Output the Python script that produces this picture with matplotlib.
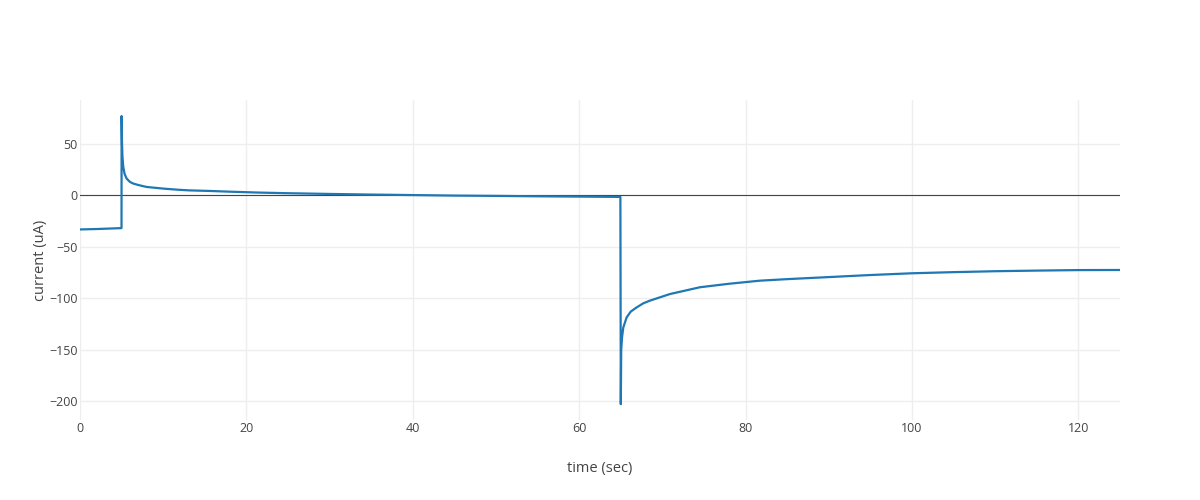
import matplotlib
matplotlib.use("Agg")
import matplotlib.pyplot as plt

# values
time_sec = [0, 2, 4, 4.99, 5.0, 5.05, 5.1, 5.2, 5.35, 5.6, 6.0, 6.4, 7, 8, 10,
            11.6, 13, 15.6, 18, 21.6, 25, 30, 35, 40, 45, 50, 55, 60, 64.95,
            65.0, 65.05, 65.15, 65.3, 65.7, 66.2, 66.9, 67.7, 68.5, 70.9, 74.5,
            78, 81.7, 85, 90, 95, 100, 105, 110, 115, 120, 125]
current_ua = [-33.2, -32.8, -32.2, -31.9, 77, 50, 38, 27.6, 21, 16.3, 13, 11.4,
              10, 8.1, 6.5, 5.5, 4.8, 4.2, 3.5, 2.6, 2, 1.3, 0.7, 0.2, -0.3,
              -0.6, -1.0, -1.3, -1.6, -203, -150, -138, -128.5, -118.7, -113,
              -109, -105, -102.4, -96, -89.4, -86, -83, -81.5, -79.5, -77.5,
              -75.8, -74.7, -73.8, -73.2, -72.7, -72.6]

xticks = [0, 20, 40, 60, 80, 100, 120]
yticks = [-200, -150, -100, -50, 0, 50]
ytick_labels = ["\u2212200", "\u2212150", "\u2212100", "\u221250", "0", "50"]

plt.rcParams["font.family"] = ["Open Sans", "DejaVu Sans"]

fig = plt.figure(figsize=(12, 5), dpi=100)
ax = fig.add_axes([80 / 1200, 0.16, 1040 / 1200, 0.64])

ax.plot(time_sec, current_ua, color="#1f77b4", lw=1.6, zorder=3)
ax.axhline(0, color="#444444", lw=0.8, zorder=2)

ax.set_xlim(0, 125)
ax.set_ylim(-218.4, 92.6)
ax.set_xticks(xticks)
ax.set_yticks(yticks)
ax.set_yticklabels(ytick_labels)
ax.grid(True, color="#eeeeee", lw=1, zorder=0)
ax.set_axisbelow(True)
for s in ax.spines.values():
    s.set_visible(False)
ax.tick_params(length=0, labelsize=9, labelcolor="#444444", pad=1.5)

ax.set_xlabel("time (sec)", fontsize=10.5, color="#444444", labelpad=19)
ax.set_ylabel("current (uA)", fontsize=10.5, color="#444444", labelpad=1)

fig.savefig("out.png", dpi=100, facecolor="white")
